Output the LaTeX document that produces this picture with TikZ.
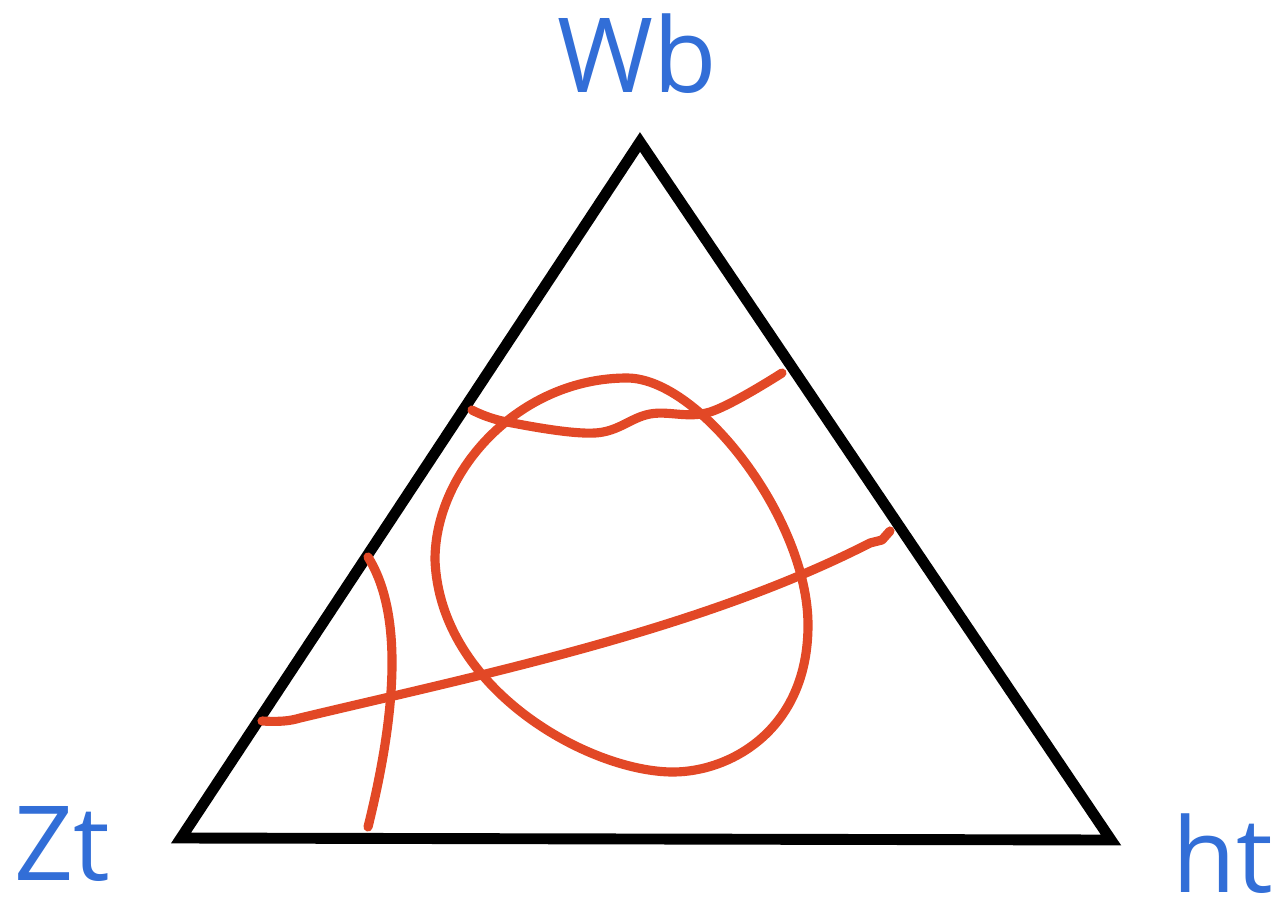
\documentclass[tikz,border=0pt]{standalone}
\usepackage{fontspec}
\setmainfont{Open Sans}
\usetikzlibrary{positioning}
\definecolor{labelblue}{RGB}{50,110,215}
\definecolor{curvered}{RGB}{226,72,38}

\begin{document}
\begin{tikzpicture} [
    x=0.2mm, y=-0.2mm,
    edge/.style={draw, black, line width=6.2pt, line join=miter},
    curve/.style={draw, curvered, line width=5.2pt, line cap=round, line join=round},
    vlabel/.style={text=labelblue, inner sep=0pt, text depth=0pt, font=\fontsize{59}{59}\selectfont}
]
    \useasboundingbox (0,0) rectangle (1277,897);

    % Vertices
    \coordinate (top) at (640,142);
    \coordinate (left) at (181,838);
    \coordinate (right) at (1111,840);

    % Labels
    \node[vlabel, anchor=base] (wb) at (637,92) {Wb};
    \node[vlabel, anchor=base west] (zt) at (14,880) {Zt};
    \node[vlabel, anchor=base west] (ht) at (1172,892) {ht};

    % Triangle
    \path[edge] (top) -- (right) -- (left) -- cycle;

    % Closed loop
    \draw[curve] (627,378) .. controls (700,378) and (808,520) .. (808,625)
        .. controls (808,730) and (730,772) .. (673,772)
        .. controls (590,772) and (440,690) .. (435,560)
        .. controls (435,470) and (520,378) .. cycle;

    % Upper wavy line
    \draw[curve] plot[smooth, tension=0.6] coordinates {
        (472,410) (507,422) (595,433) (650,414) (710,412) (782,373)};

    % Long line
    \draw[curve] (262,721) .. controls (280,722) and (290,721) .. (300,718)
        .. controls (480,675) and (700,630) .. (870,543)
        -- (882,540) -- (890,531);

    % Left curve
    \draw[curve] (368,557) .. controls (398,605) and (402,690) .. (368,827);
\end{tikzpicture}
\end{document}
